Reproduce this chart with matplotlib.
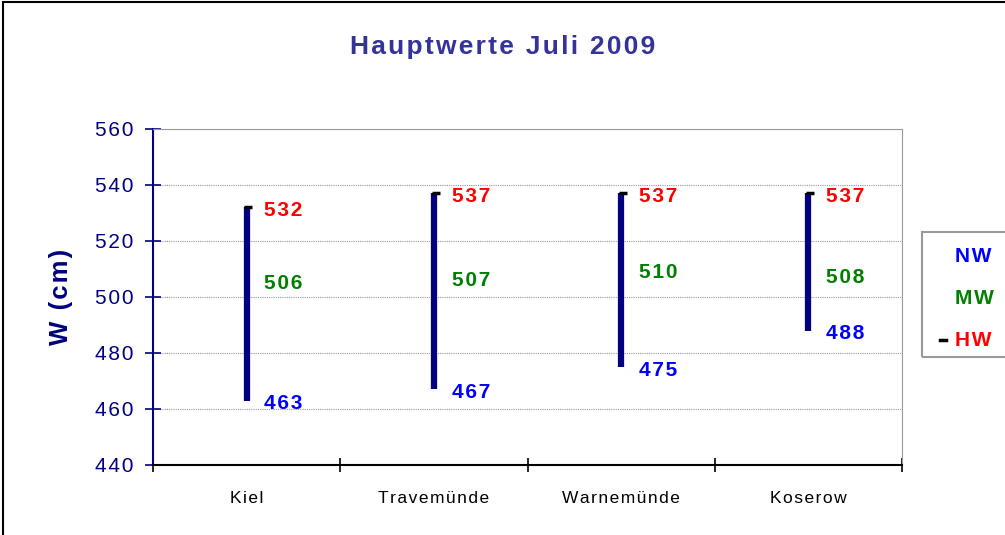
import matplotlib
matplotlib.use('agg')
import matplotlib.pyplot as plt
from matplotlib.patches import Rectangle

stations = ["Kiel", "Travemünde", "Warnemünde", "Koserow"]
nw = [463, 467, 475, 488]
mw = [506, 507, 510, 508]
hw = [532, 537, 537, 537]
series = ["NW", "MW", "HW"]
colors = {"NW": "#0000FF", "MW": "#008000", "HW": "#FF0000"}
navy = "#000080"

plt.rcParams['font.family'] = ['Liberation Sans', 'DejaVu Sans']


def sp(s, gap='\u200a'):
    # old Excel charts draw text with wide letter spacing
    return gap.join(s)


fig = plt.figure(figsize=(10.05, 5.35), dpi=100)
fig.patches.append(Rectangle((0.003, -0.01), 1.2, 1.006, transform=fig.transFigure,
                             fill=False, edgecolor='black', linewidth=1.5))
ax = fig.add_axes([153/1005, 1-465/535, 749/1005, 336/535])

xs = list(range(len(stations)))
for i in xs:
    ax.vlines(i, nw[i], hw[i], color=navy, linewidth=4.5, zorder=3)
    ax.plot([i + 0.01], [hw[i]], marker='_', color='black', markersize=6, mew=2.5, zorder=4)
    for vals, name in ((nw, "NW"), (mw, "MW"), (hw, "HW")):
        ax.text(i + 0.095, vals[i] - 1.1, sp(str(vals[i])), color=colors[name], fontsize=15,
                fontweight='bold', ha='left', va='center')

ax.set_xlim(-0.5, len(stations) - 0.5)
ax.set_ylim(440, 560)
yt = list(range(440, 561, 20))
ax.set_yticks(yt)
ax.set_yticklabels([sp(str(v)) for v in yt])
ax.set_xticks([i - 0.5 for i in range(len(stations) + 1)])
ax.set_xticklabels([])
ax.set_xticks(xs, minor=True)
ax.set_xticklabels([sp(s) for s in stations], minor=True)
ax.tick_params(axis='x', which='minor', length=0, pad=19, labelsize=12.5, labelcolor='black')
ax.tick_params(axis='x', which='major', length=10, width=1.2, direction='inout', color='black')
ax.tick_params(axis='y', length=12, width=1.2, direction='inout', color=navy,
               labelcolor=navy, labelsize=15, pad=8)
ax.grid(axis='y', color='#999999', linestyle=(0, (1, 1)), linewidth=0.8)
ax.spines['left'].set_color(navy)
ax.spines['left'].set_linewidth(1.5)
ax.spines['bottom'].set_color('black')
ax.spines['bottom'].set_linewidth(1.5)
ax.spines['top'].set_color('#999999')
ax.spines['right'].set_color('#999999')
ax.set_ylabel(sp("W (cm)"), color=navy, fontsize=18.5, fontweight='bold', labelpad=16)

fig.text(0.5, 1-47/535, sp("Hauptwerte Juli 2009"), ha='center', va='center',
         color='#333399', fontsize=19, fontweight='bold')

# legend box
fig.patches.append(Rectangle((922/1005, 1-357/535), 0.2, 125/535, transform=fig.transFigure,
                             fill=False, edgecolor='#999999', linewidth=1.5))
for k, name in enumerate(series):
    y = 1 - (256 + k*42)/535
    fig.text(955/1005, y, sp(name), color=colors[name], fontsize=15, fontweight='bold',
             ha='left', va='center')
fig.lines.append(plt.Line2D([940/1005, 946/1005], [1-340/535, 1-340/535],
                            transform=fig.transFigure, color='black', linewidth=2.5))

fig.savefig("out.png", dpi=100)
